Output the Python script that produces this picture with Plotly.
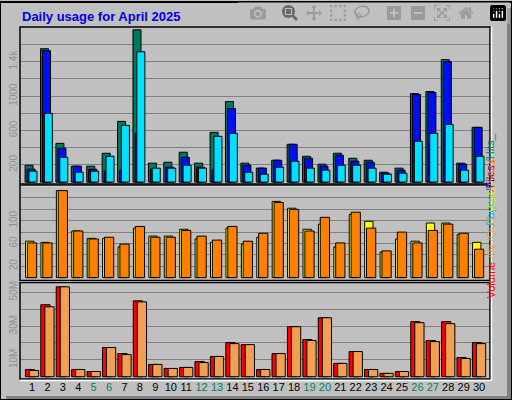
import plotly.graph_objects as go

days = list(range(1, 31))
weekend = [5, 6, 12, 13, 19, 20, 26, 27]

hits = [196, 1549, 450, 185, 185, 335, 705, 1769, 220, 231, 347, 220, 578, 936, 220,
        162, 254, 439, 300, 208, 335, 277, 254, 115, 162, 1029, 1052, 1422, 220, 636]
files = [150, 1526, 393, 185, 150, 127, 139, 566, 150, 173, 289, 173, 139, 855, 196,
         162, 254, 439, 277, 185, 312, 243, 231, 104, 139, 1017, 1040, 1399, 208, 636]
pages = [127, 798, 289, 115, 127, 300, 659, 1514, 162, 162, 196, 162, 532, 566, 115,
         92, 173, 243, 162, 139, 196, 196, 162, 92, 104, 474, 566, 670, 139, 300]

visits = [64, 62, 153, 82, 69, 69, 54, 87, 73, 73, 85, 68, 62, 87, 59,
          71, 134, 122, 85, 94, 54, 111, 99, 45, 68, 64, 96, 96, 76, 62]
sites = [61, 61, 153, 82, 68, 71, 59, 90, 71, 71, 83, 73, 66, 90, 64,
         78, 132, 120, 82, 106, 61, 115, 87, 47, 80, 61, 83, 94, 78, 50]

volume = [4.3, 42.6, 53.2, 4.3, 3.1, 17.3, 13.7, 44.9, 7.3, 4.9, 5.5, 9.0, 12.0, 20.2, 19.0,
          4.3, 13.7, 29.6, 22.0, 34.9, 7.9, 14.9, 4.3, 2.0, 3.1, 32.6, 21.4, 32.6, 11.4, 20.2]
inout = [3.7, 41.4, 53.2, 4.3, 3.1, 17.3, 13.1, 44.3, 7.3, 4.9, 5.5, 8.4, 12.0, 19.6, 19.0,
         4.3, 13.7, 29.6, 21.4, 34.9, 7.9, 14.9, 4.3, 2.0, 3.1, 32.0, 20.8, 31.4, 10.8, 19.6]

BG = "#c0c0c0"
line = dict(color="black", width=1)


def bars(y, color, offset, width, yaxis):
    return go.Bar(x=days, y=y, marker=dict(color=color, line=line), offset=offset,
                  width=width, yaxis=yaxis, xaxis="x", hoverinfo="skip")


fig = go.Figure([
    bars(hits, "#007860", -0.45, 0.52, "y"),
    bars(files, "#0010f0", -0.32, 0.52, "y"),
    bars(pages, "#00e0ff", -0.2, 0.52, "y"),
    bars(visits, "#ffff00", -0.42, 0.54, "y2"),
    bars(sites, "#ff8000", -0.3, 0.6, "y2"),
    bars(volume, "#ff0000", -0.43, 0.6, "y3"),
    bars(inout, "#f0a050", -0.17, 0.6, "y3"),
])

gray_tick = dict(family="Liberation Sans, Arial", size=10, color="#909090")
xdom = [20 / 512, 490 / 512]


def ydom(top, bot):
    return [1 - bot / 400, 1 - top / 400]


tick_text = [f"<span style='color:{'#008060' if d in weekend else 'black'}'>{d}</span>" for d in days]

fig.update_layout(
    width=512, height=400, margin=dict(l=0, r=0, t=0, b=0),
    paper_bgcolor=BG, plot_bgcolor=BG, barmode="overlay", showlegend=False,
    xaxis=dict(domain=xdom, range=[0.22, 30.71], anchor="y3", tickvals=days, ticktext=tick_text,
               showgrid=False, zeroline=False, ticks="", ticklen=0,
               tickfont=dict(family="Liberation Sans, Arial", size=11)),
    yaxis=dict(domain=ydom(25, 183), range=[-23, 1803], tickvals=list(range(200, 1700, 200)),
               ticktext=["200", "", "600", "", "1000", "", "1.4k", ""], tickangle=-90,
               gridcolor="#808080", zeroline=False, tickfont=gray_tick, ticks=""),
    yaxis2=dict(domain=ydom(184, 280), range=[-5.25, 162.7], tickvals=list(range(20, 160, 20)),
                ticktext=["20", "", "60", "", "100", "", ""], tickangle=-90,
                gridcolor="#808080", zeroline=False, tickfont=gray_tick, ticks=""),
    yaxis3=dict(domain=ydom(282, 379), range=[-1.4, 55.7], tickvals=[10, 20, 30, 40, 50],
                ticktext=["10M", "", "30M", "", "50M"], tickangle=-90,
                gridcolor="#808080", zeroline=False, tickfont=gray_tick, ticks=""),
)

shapes = [
    dict(type="rect", xref="paper", yref="paper", x0=507 / 512, x1=1, y0=0, y1=1 - 6 / 400,
         fillcolor="#808080", line_width=0),
    dict(type="rect", xref="paper", yref="paper", x0=6 / 512, x1=1, y0=0, y1=4 / 400,
         fillcolor="#808080", line_width=0),
    dict(type="rect", xref="paper", yref="paper", x0=0, x1=1, y0=0, y1=1,
         line=dict(color="black", width=2)),
]
for top, bot in [(25, 183), (184, 280), (282, 379)]:
    shapes.append(dict(type="rect", xref="paper", yref="paper", x0=xdom[0], x1=xdom[1],
                       y0=1 - bot / 400, y1=1 - top / 400, line=dict(color="black", width=1.5)))
    shapes.append(dict(type="line", xref="paper", yref="paper", x0=xdom[0], x1=xdom[1] + 1 / 512,
                       y0=1 - (bot + 1.5) / 400, y1=1 - (bot + 1.5) / 400, line=dict(color="white", width=1.5)))
    shapes.append(dict(type="line", xref="paper", yref="paper", x0=xdom[1] + 1.5 / 512, x1=xdom[1] + 1.5 / 512,
                       y0=1 - (bot + 1.5) / 400, y1=1 - top / 400, line=dict(color="white", width=1.5)))
fig.update_layout(shapes=shapes)

fig.add_annotation(text="<b>Daily usage for April 2025</b>", xref="paper", yref="paper",
                   x=20 / 512, y=1 - 15 / 400, xanchor="left", yanchor="middle", showarrow=False,
                   font=dict(family="Liberation Sans, Arial", size=13, color="#0000e0"))
fig.add_annotation(text="<span style='color:#00c8e8'>Pages</span><span style='color:#0000e0'> /Files</span>"
                        "<span style='color:#008060'> /Hits_</span>",
                   xref="paper", yref="paper", x=498 / 512, y=1 - 130 / 400, textangle=-90,
                   showarrow=False, font=dict(family="Liberation Sans, Arial", size=11))
fig.add_annotation(text="<span style='color:#ff0000'>Volume</span><span style='color:#e0a050'> /IN /OUT</span>"
                        "<span style='color:#e8e000'> Visits</span><span style='color:#ff8000'>/Sites</span>",
                   xref="paper", yref="paper", x=498 / 512, y=1 - 300 / 400, textangle=-90,
                   showarrow=False, font=dict(family="Liberation Sans, Arial", size=11))

fig.write_html("out.html", post_script="document.body.style.margin='0';")
